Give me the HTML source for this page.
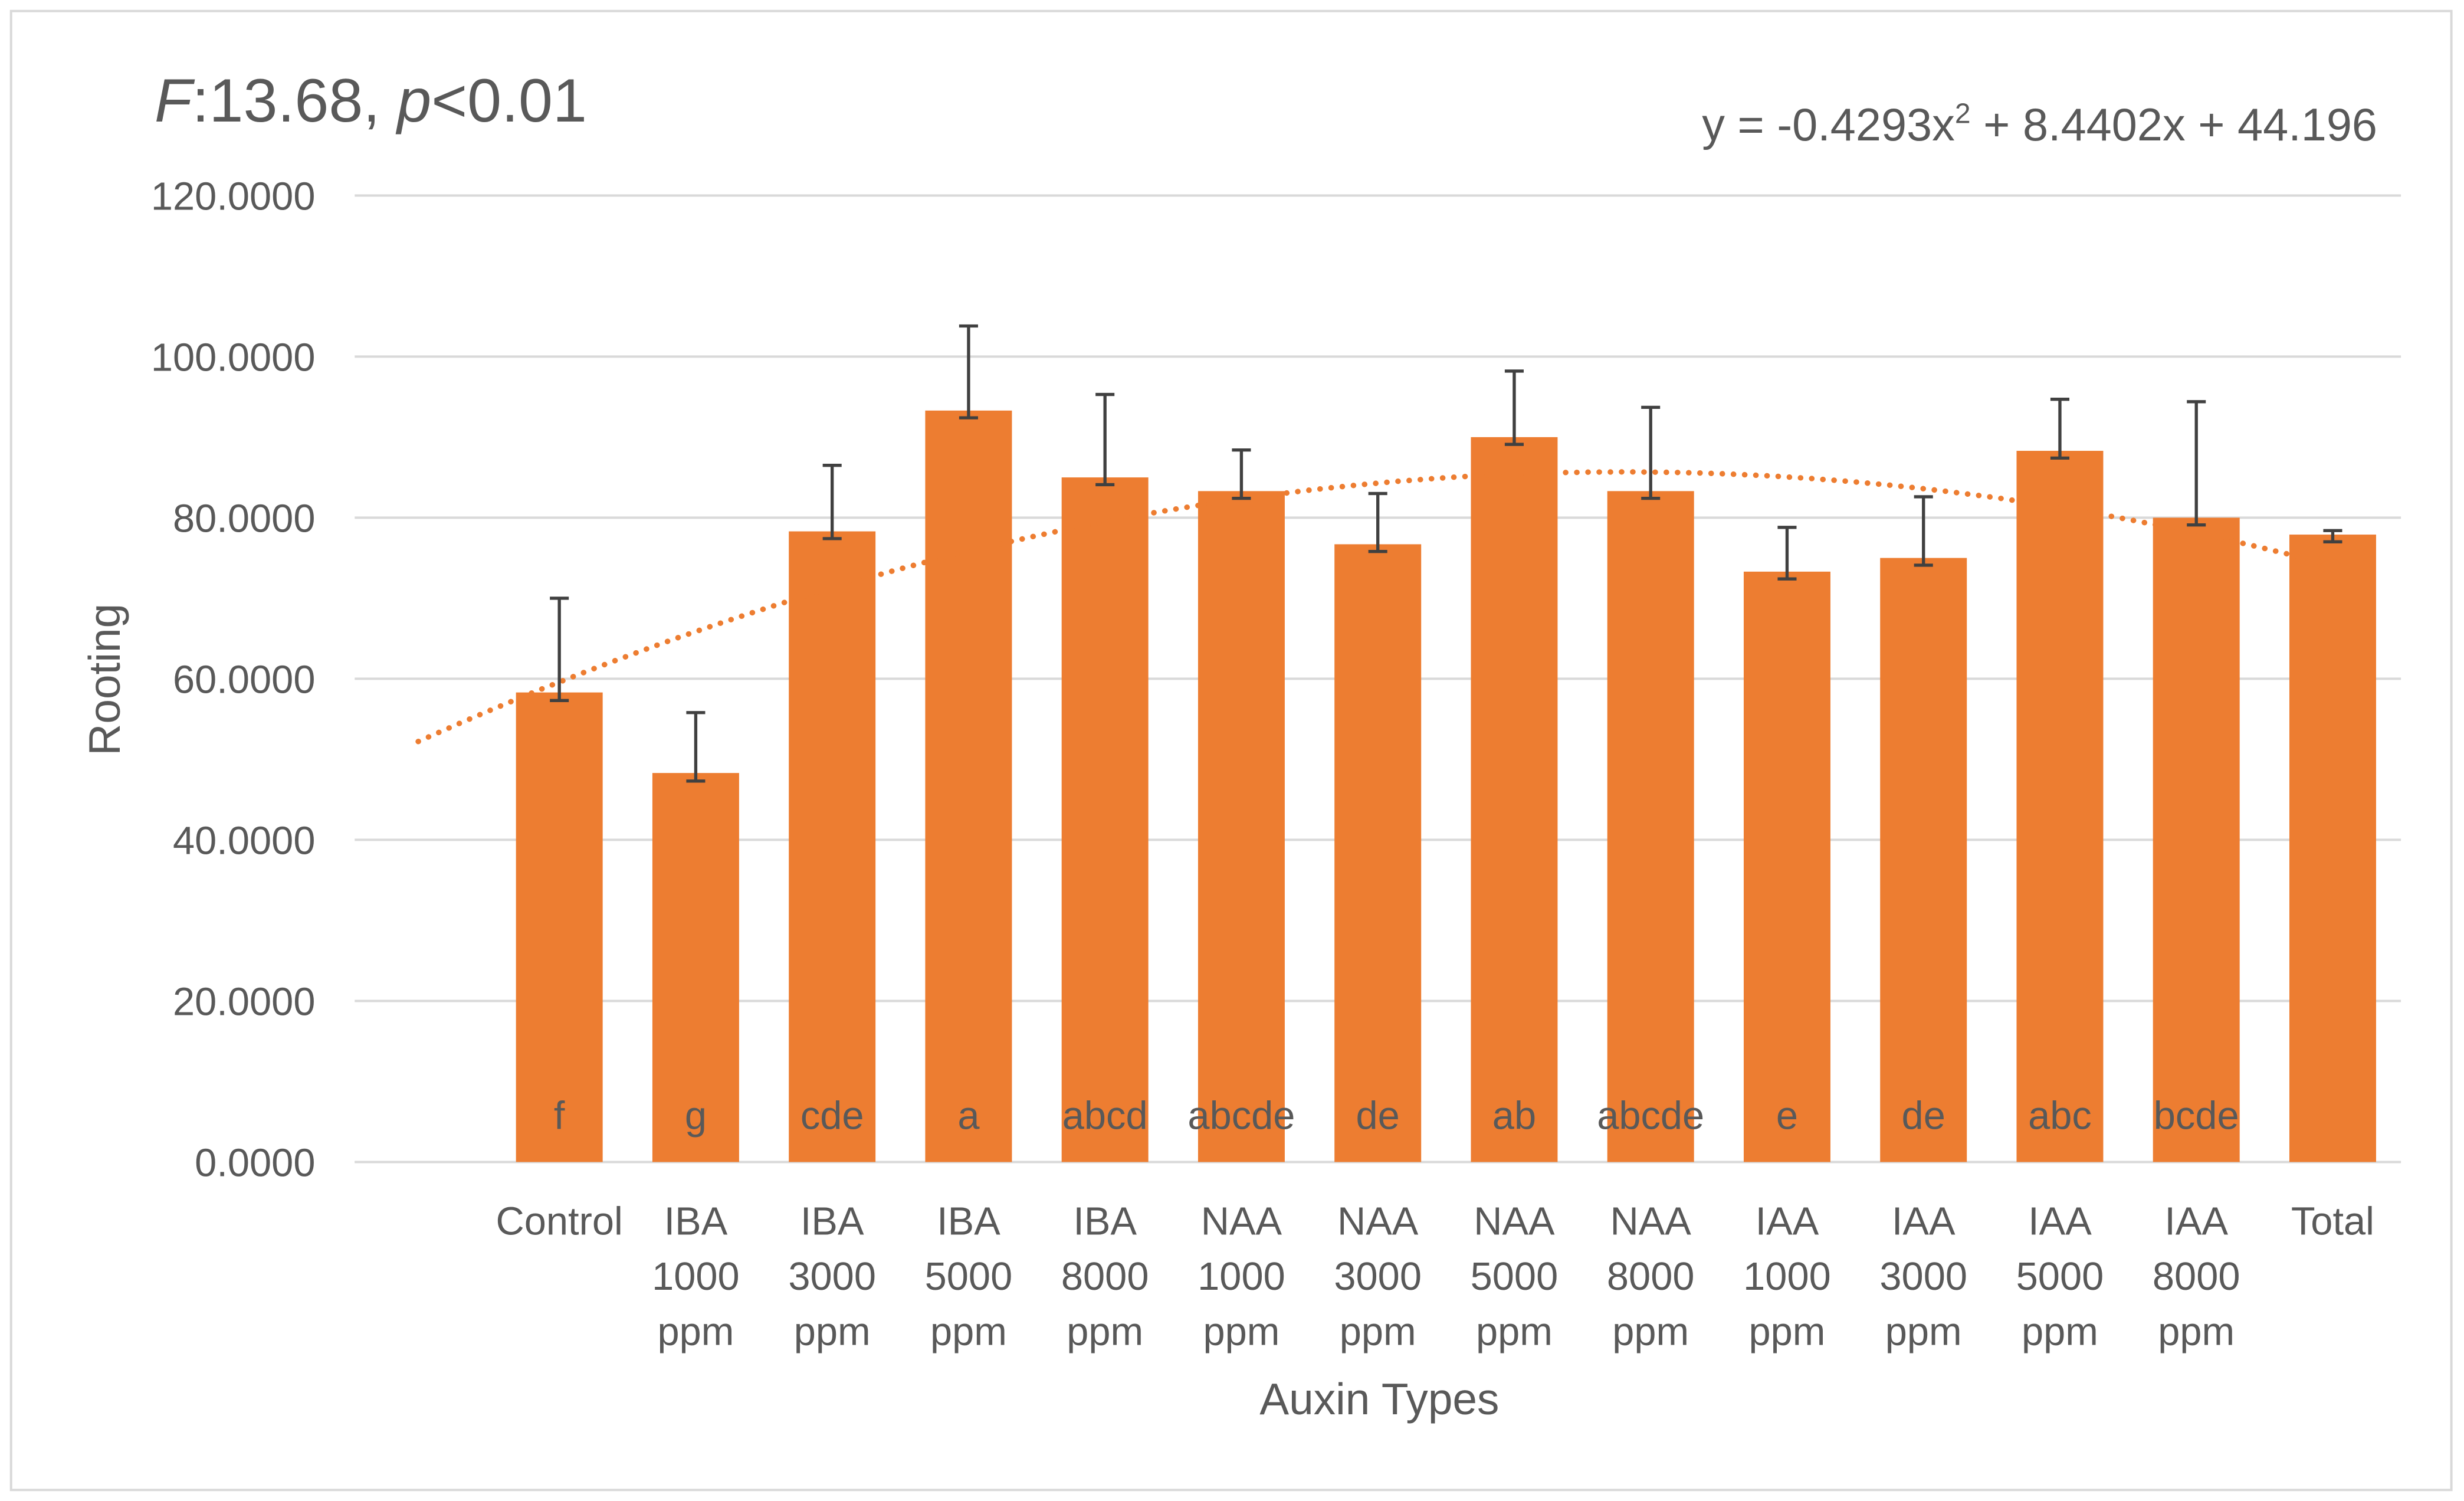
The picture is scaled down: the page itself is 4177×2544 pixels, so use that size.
<!DOCTYPE html>
<html><head><meta charset="utf-8"><style>
html,body{margin:0;padding:0;background:#fff}
svg{display:block}
text{font-family:"Liberation Sans",sans-serif;fill:#595959}
</style></head><body>
<svg id="chart" width="4177" height="2544" viewBox="0 0 1563 952" preserveAspectRatio="none" xmlns="http://www.w3.org/2000/svg">
<rect x="7" y="7" width="1548" height="938" fill="#fff" stroke="#d9d9d9" stroke-width="1.5"/>
<text x="98" y="77" font-size="39"><tspan font-style="italic">F</tspan>:13.68, <tspan font-style="italic">p</tspan>&lt;0.01</text>
<text x="1508" y="89" font-size="29" text-anchor="end">y = -0.4293x<tspan font-size="18" dy="-11">2</tspan><tspan dy="11"> + 8.4402x + 44.196</tspan></text>
<g id="grid"></g><g id="bars"></g><g id="trend"></g><g id="errs"></g><g id="labels"></g>
<text x="875" y="897" font-size="28" text-anchor="middle">Auxin Types</text>
<text transform="translate(76,431) rotate(-90)" font-size="28" text-anchor="middle">Rooting</text>
</svg>
<script>
const categories=[["Control"],["IBA","1000","ppm"],["IBA","3000","ppm"],["IBA","5000","ppm"],["IBA","8000","ppm"],["NAA","1000","ppm"],["NAA","3000","ppm"],["NAA","5000","ppm"],["NAA","8000","ppm"],["IAA","1000","ppm"],["IAA","3000","ppm"],["IAA","5000","ppm"],["IAA","8000","ppm"],["Total"]];
const values=[58.3,48.3,78.3,93.3,85.0,83.3,76.7,90.0,83.3,73.3,75.0,88.3,80.0,77.9];
const errHigh=[70.0,55.8,86.5,103.8,95.3,88.4,83.0,98.2,93.7,78.8,82.6,94.7,94.4,78.4];
const errLow=[57.3,47.3,77.4,92.4,84.1,82.4,75.8,89.1,82.4,72.4,74.1,87.4,79.1,77.0];
const letters=["f","g","cde","a","abcd","abcde","de","ab","abcde","e","de","abc","bcde",""];
const yTicks=[0,20,40,60,80,100,120];
const trendCoef=[44.196,8.4402,-0.4293];
const NS="http://www.w3.org/2000/svg";
const x0=225,x1=1523,nSlots=15,slot=(x1-x0)/nSlots;
const yS=v=>737-v*(737-124)/120;
const xS=k=>x0+slot*(k-0.5);
function mk(tag,attrs,parent){const e=document.createElementNS(NS,tag);for(const k in attrs)e.setAttribute(k,attrs[k]);document.getElementById(parent).appendChild(e);return e;}
yTicks.forEach(t=>{
 const l=mk('line',{x1:x0,x2:x1,y1:yS(t),y2:yS(t),stroke:'#d9d9d9','stroke-width':1.5},'grid');
 
 
 const tx=mk('text',{x:200,y:yS(t)+9,'font-size':25,'text-anchor':'end'},'grid');
 tx.textContent=t.toFixed(4);
 
 
});
const bw=55;
values.forEach((v,i)=>{
 const cx=xS(i+2);
 const r=mk('rect',{x:cx-bw/2,y:yS(v),width:bw,height:yS(0)-yS(v),fill:'#ed7d31'},'bars');
 
 
 const g=mk('path',{d:`M${cx} ${yS(errLow[i])}V${yS(errHigh[i])}M${cx-6} ${yS(errHigh[i])}H${cx+6}M${cx-6} ${yS(errLow[i])}H${cx+6}`,stroke:'#404040','stroke-width':2,fill:'none'},'errs');
 
 
 if(letters[i]){const lt=mk('text',{x:cx,y:716,'font-size':25,'text-anchor':'middle',fill:'#404040'},'labels');
 lt.textContent=letters[i];
 
 }
 categories[i].forEach((s,j)=>{const ct=mk('text',{x:cx,y:783+j*35,'font-size':25,'text-anchor':'middle'},'labels');
 ct.textContent=s;
 
 });
});
let d='';
for(let k=1;k<=15;k+=0.1){const y=trendCoef[0]+trendCoef[1]*k+trendCoef[2]*k*k;d+=(d?'L':'M')+(x0+slot*(k-0.5)-3).toFixed(1)+' '+yS(y).toFixed(1);}
const tp=mk('path',{d:d,stroke:'#ed7d31','stroke-width':3.5,fill:'none','stroke-dasharray':'0.1 7','stroke-linecap':'round'},'trend');


const ax=mk('line',{x1:x0,x2:x1,y1:yS(0),y2:yS(0),stroke:'#d9d9d9','stroke-width':1.5},'grid');


</script>
</body></html>
